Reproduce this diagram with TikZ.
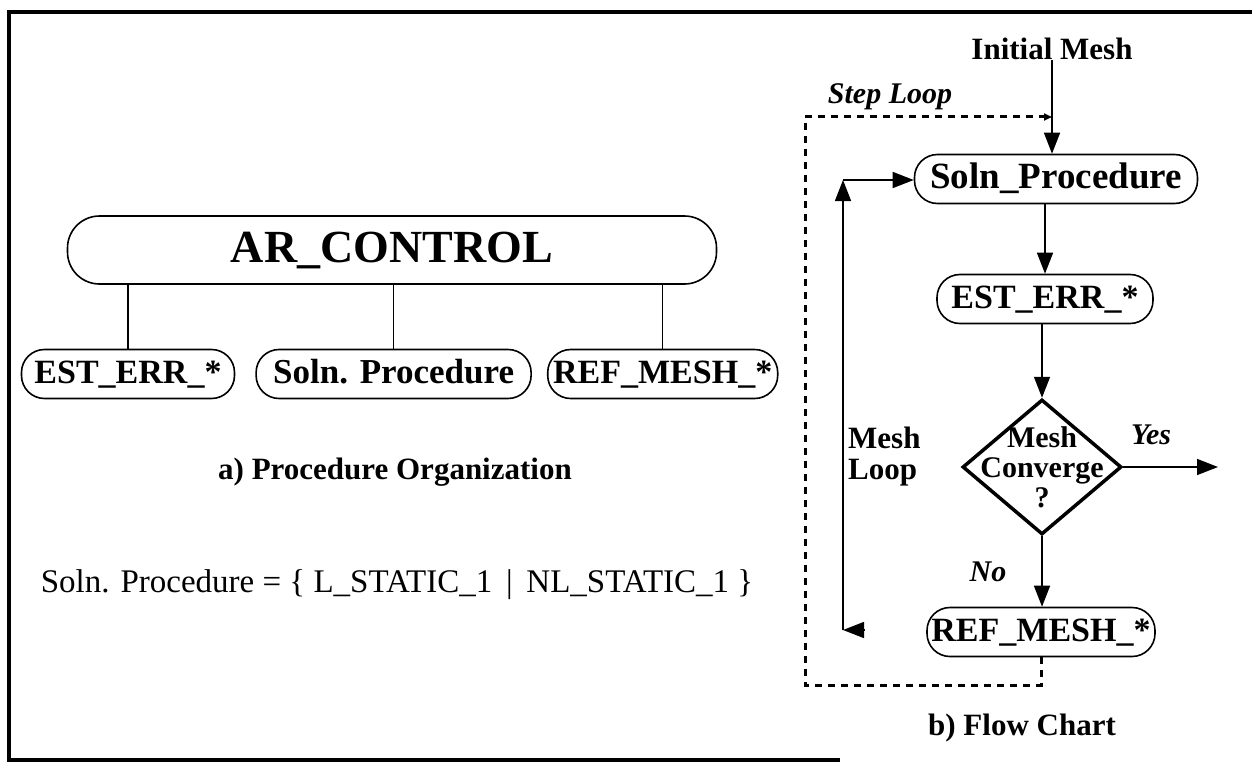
\documentclass[tikz,border=0pt]{standalone}
\usepackage{fontspec}
\setmainfont{Liberation Serif}
\usepackage{tikz}
\usetikzlibrary{
  arrows.meta,
  shapes.geometric,
  positioning
}
\tikzset{
  pill/.style={
    draw, line width=1.6pt, rounded corners=23pt, inner sep=0pt,
    minimum height=49pt, text height=24pt, text depth=6pt,
    font=\fontsize{34}{36}\selectfont\bfseries
  },
  rootpill/.style={pill, rounded corners=32pt, minimum height=68pt, minimum width=649pt,
    text height=32pt, text depth=8pt, font=\fontsize{46}{50}\selectfont\bfseries},
  decision/.style={draw, diamond, line width=3.5pt, inner sep=0pt, minimum width=159pt, minimum height=135pt},
  link/.style={line width=1.4pt},
  flow/.style={-{Triangle[length=21pt, width=16pt]}, line width=1.5pt},
  steploop/.style={-{Triangle[length=8pt, width=7pt]}, line width=3pt, dash pattern=on 7pt off 6pt},
  tag/.style={font=\fontsize{30}{32}\selectfont\bfseries\itshape, inner sep=0pt},
  caption/.style={font=\fontsize{31}{33}\selectfont\bfseries, inner sep=0pt},
  frame/.style={line width=3.5pt}
}
\begin{document}
\begin{tikzpicture}[x=1pt, y=-1pt, node distance=20pt]
  \useasboundingbox (0,0) rectangle (1252,765);
  \draw[frame] (1252,12) -- (9,12) -- (9,760) -- (840,760);

  \node[rootpill] (arctl) at (392,250) {AR\_CONTROL};
  \node[pill, minimum width=213pt] (estL) at (128,374) {EST\_ERR\_*};
  \node[pill, minimum width=275pt, font=\fontsize{35}{37}\selectfont\bfseries, right=20pt of estL] (solL) {Soln. Procedure};
  \node[pill, minimum width=230pt, right=15pt of solL] (refL) {REF\_MESH\_*};
  \draw[link] (estL.north) -- (estL.north |- arctl.south);
  \draw[link] (solL.north) -- (solL.north |- arctl.south);
  \draw[link] (refL.north) -- (refL.north |- arctl.south);
  \node[caption] (capa) at (395,472) {a) Procedure Organization};
  \node[font=\fontsize{33}{35}\selectfont, inner sep=0pt] (formula) at (397,585)
    {Soln. Procedure = \{ L\_STATIC\_1 \,|\, NL\_STATIC\_1 \}};

  \node[caption] (init) at (1052,49) {Initial Mesh};
  \node[pill, minimum width=283pt, font=\fontsize{37}{39}\selectfont\bfseries] (solR) at (1056,179) {Soln\_Procedure};
  \node[pill, minimum width=216pt] (estR) at (1045,299) {EST\_ERR\_*};
  \node[decision, label={[font=\fontsize{30}{30}\selectfont\bfseries, align=center]center:Mesh\\Converge\\?}] (dia) at (1042,467) {};
  \node[pill, minimum width=228pt] (refR) at (1041,632) {REF\_MESH\_*};
  \coordinate (yesend) at (1218,467);
  \draw[flow] (init.south) -- (init.south |- solR.north);
  \draw[flow] (estR.north |- solR.south) -- (estR.north);
  \draw[flow] (dia.north |- estR.south) -- (dia.north);
  \draw[flow] (dia.south) -- (dia.south |- refR.north);
  \draw[flow] (dia.east) -- (yesend);
  \node[tag] (yeslbl) at (1151,435) {Yes};
  \node[tag] (nolbl) at (988,572) {No};

  \coordinate (mlstub) at (864,630);
  \coordinate (mlbot) at (843,630);
  \coordinate (mltop) at (843,180);
  \draw[flow] (mlstub) -- (mlbot);
  \draw[flow] (mlbot) -- (mltop);
  \draw[flow] (mltop) -- (mltop -| solR.west);
  \node[font=\fontsize{31}{31}\selectfont\bfseries, align=left, anchor=west, inner sep=0pt] (meshlbl) at (848,457) {Mesh\\Loop};

  \coordinate (stepbl) at (805,685);
  \coordinate (steptl) at (805,117);
  \draw[steploop] (refR.south) |- (stepbl) -- (steptl) -- (steptl -| init.south);
  \node[tag] (steplbl) at (890,97) {Step Loop};
  \node[caption] (capb) at (1022,728) {b) Flow Chart};
\end{tikzpicture}
\end{document}
